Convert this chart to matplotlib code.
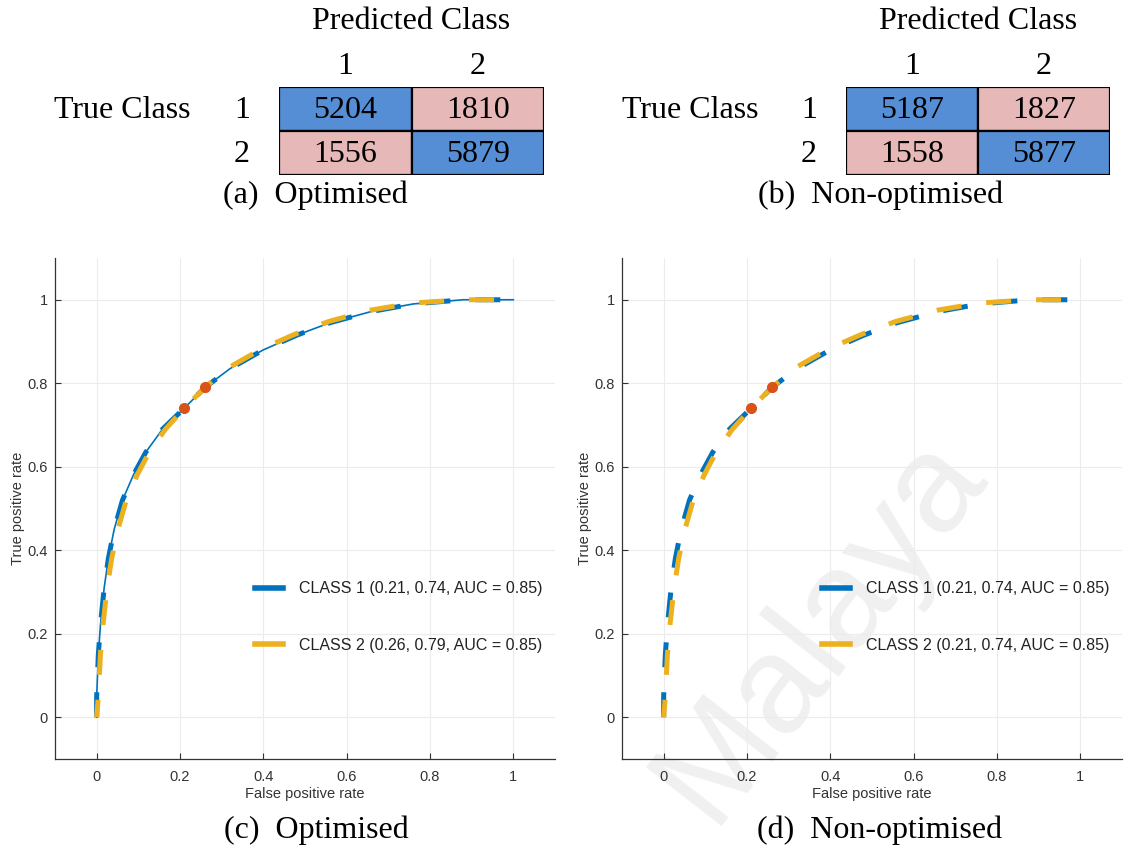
import numpy as np
import matplotlib.pyplot as plt
from matplotlib.patches import Rectangle
from matplotlib.lines import Line2D

# confusion matrices: rows = true class, columns = predicted class
cm_opt = [[5204, 1810], [1556, 5879]]
cm_nonopt = [[5187, 1827], [1558, 5877]]
class_ids = ['1', '2']

# ROC curves (false positive rate, true positive rate)
fpr_c1 = [0.0, 0.0, 0.004, 0.009, 0.018, 0.028, 0.042, 0.062, 0.088, 0.118, 0.158,
          0.21, 0.26, 0.32, 0.40, 0.48, 0.56, 0.66, 0.76, 0.88, 1.0]
tpr_c1 = [0.0, 0.05, 0.15, 0.22, 0.31, 0.38, 0.45, 0.52, 0.58, 0.635, 0.69,
          0.74, 0.79, 0.835, 0.88, 0.915, 0.945, 0.972, 0.99, 1.0, 1.0]
fpr_c2 = [0.0, 0.004, 0.009, 0.015, 0.025, 0.036, 0.051, 0.071, 0.097, 0.126, 0.165,
          0.215, 0.26, 0.318, 0.397, 0.477, 0.557, 0.657, 0.757, 0.88, 1.0]
tpr_c2 = [0.0, 0.05, 0.15, 0.22, 0.31, 0.38, 0.45, 0.52, 0.58, 0.635, 0.69,
          0.745, 0.79, 0.838, 0.883, 0.918, 0.948, 0.975, 0.992, 1.0, 1.0]

# operating points marked on the curves
op_fpr = [0.21, 0.26]
op_tpr = [0.74, 0.79]

legend_opt = ['CLASS 1 (0.21, 0.74, AUC = 0.85)', 'CLASS 2 (0.26, 0.79, AUC = 0.85)']
legend_nonopt = ['CLASS 1 (0.21, 0.74, AUC = 0.85)', 'CLASS 2 (0.21, 0.74, AUC = 0.85)']

ticks = [0, 0.2, 0.4, 0.6, 0.8, 1]
tick_labels = ['0', '0.2', '0.4', '0.6', '0.8', '1']

CELL_DIAG = '#558ED5'
CELL_OFF = '#E6B9B8'
C1 = '#0072BD'
C2 = '#EDB120'
C_OP = '#D95319'
SERIF = 'Liberation Serif'
SANS = 'Liberation Sans'

W, H = 1136, 849
fig = plt.figure(figsize=(W / 100, H / 100), dpi=100)


def px_axes(x0, y0, x1, y1):
    # axes from pixel box (top-left origin)
    return fig.add_axes([x0 / W, 1 - y1 / H, (x1 - x0) / W, (y1 - y0) / H])


def draw_matrix(ax, cm):
    for i in range(2):
        for j in range(2):
            fc = CELL_DIAG if i == j else CELL_OFF
            ax.add_patch(Rectangle((j, i), 1, 1, facecolor=fc, edgecolor='black', lw=1.6))
            ax.text(j + 0.5, i + 0.54, str(cm[i][j]), ha='center', va='center',
                    fontsize=23, family=SERIF)
    for k in range(2):
        ax.text(k + 0.5, -0.46, class_ids[k], ha='center', va='center', fontsize=23, family=SERIF)
        ax.text(-0.28, k + 0.54, class_ids[k], ha='center', va='center', fontsize=23, family=SERIF)
    ax.text(-1.18, 0.54, 'True Class', ha='center', va='center', fontsize=23, family=SERIF)
    ax.text(1.0, -1.48, 'Predicted Class', ha='center', va='center', fontsize=23, family=SERIF)
    ax.set_xlim(0, 2)
    ax.set_ylim(2, 0)
    ax.axis('off')


def draw_roc(ax, labels, thin_line):
    ax.set_facecolor('none')
    if thin_line:
        ax.plot(fpr_c1, tpr_c1, color=C1, lw=1.2, zorder=3)
    ax.plot(fpr_c1, tpr_c1, color=C1, lw=3.6, ls=(0, (5, 5)), dash_capstyle='butt', zorder=3)
    ax.plot(fpr_c2, tpr_c2, color=C2, lw=3.6, ls=(1.5, (5, 5)), dash_capstyle='butt', zorder=4)
    ax.plot(op_fpr, op_tpr, 'o', color=C_OP, ms=7, zorder=5)

    ax.set_xlim(-0.1, 1.1)
    ax.set_ylim(-0.1, 1.1)
    ax.set_xticks(ticks)
    ax.set_xticklabels(tick_labels, family=SANS)
    ax.set_yticks(ticks)
    ax.set_yticklabels(tick_labels, family=SANS)
    ax.tick_params(direction='in', length=4, width=0.8, colors='#333333',
                   labelsize=10.5, pad=5)
    ax.tick_params(axis='x', pad=8)
    ax.grid(True, color='#ececec', lw=0.8)
    ax.set_axisbelow(True)
    for s in ['top', 'right']:
        ax.spines[s].set_visible(False)
    for s in ['left', 'bottom']:
        ax.spines[s].set_color('#333333')
        ax.spines[s].set_linewidth(0.9)
    ax.set_xlabel('False positive rate', fontsize=10.5, family=SANS, color='#333333', labelpad=2)
    ax.set_ylabel('True positive rate', fontsize=10.5, family=SANS, color='#333333', labelpad=2)

    handles = [Line2D([], [], color=C1, lw=4), Line2D([], [], color=C2, lw=4)]
    leg = ax.legend(handles, labels, loc='center left', bbox_to_anchor=(0.40, 0.283),
                    frameon=False, borderpad=0, borderaxespad=0, handlelength=1.75,
                    handletextpad=1.0, labelspacing=2.6,
                    prop={'family': SANS, 'size': 11.5})
    for t in leg.get_texts():
        t.set_color('#222222')


# watermark sits behind everything
fig.text(820, H - 628, 'Malaya', transform=None, fontsize=100, family=SANS,
         color='#f0f0f0', rotation=52, ha='center', va='center', zorder=-5)

ax_a = px_axes(279, 87, 544, 175)
draw_matrix(ax_a, cm_opt)
ax_b = px_axes(846, 87, 1110, 175)
draw_matrix(ax_b, cm_nonopt)

ax_c = px_axes(55, 258, 555, 759)
draw_roc(ax_c, legend_opt, thin_line=True)
ax_d = px_axes(622, 258, 1122, 759)
draw_roc(ax_d, legend_nonopt, thin_line=False)

captions = [('(a)  Optimised', 315, 195), ('(b)  Non-optimised', 881, 195),
            ('(c)  Optimised', 316, 830), ('(d)  Non-optimised', 880, 830)]
for txt, cx, cy in captions:
    fig.text(cx / W, 1 - cy / H, txt, ha='center', va='center', fontsize=23, family=SERIF)

fig.savefig('out.png', dpi=100)
